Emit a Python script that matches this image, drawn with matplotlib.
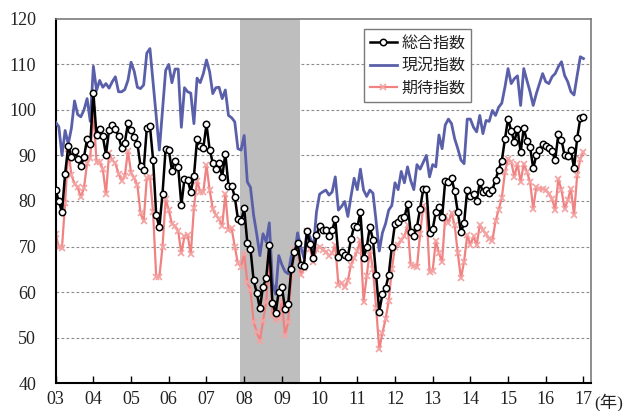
import numpy as np
import matplotlib
matplotlib.use("Agg")
import matplotlib.pyplot as plt

# ---- data (monthly, Jan 2003 - Jan 2017) ----
year_ticks = list(range(2003, 2018))
year_labels = ['03', '04', '05', '06', '07', '08', '09', '10', '11', '12', '13', '14', '15', '16', '17']

total = [
    82.4, 79.9, 77.6, 86.0, 92.1, 89.7, 90.9, 89.3, 87.7, 89.6, 93.7, 92.6,
    103.8, 94.4, 95.8, 94.2, 90.2, 95.6, 96.7, 95.9, 94.2, 91.7, 92.8, 97.1,
    95.5, 94.1, 92.6, 87.7, 86.9, 96.0, 96.5, 89.1, 76.9, 74.2, 81.6, 91.5,
    91.2, 86.7, 88.9, 87.4, 79.1, 84.9, 84.7, 82.0, 85.4, 93.6, 92.1, 91.7,
    96.9, 91.3, 88.4, 87.1, 88.3, 85.3, 90.4, 83.4, 83.4, 80.9, 76.1, 75.5,
    78.4, 70.8, 69.5, 62.6, 59.8, 56.4, 61.2, 63.0, 70.3, 57.6, 55.3, 60.1,
    61.2, 56.3, 57.3, 65.1, 68.7, 70.8, 66.0, 65.7, 73.5, 70.6, 67.4, 72.5,
    74.4, 73.6, 73.6, 72.2, 73.6, 76.0, 67.8, 68.9, 68.2, 67.7, 71.6, 74.5,
    74.2, 77.5, 67.5, 69.8, 74.3, 71.5, 63.7, 55.7, 59.5, 60.8, 63.7, 69.9,
    75.0, 75.3, 76.2, 76.4, 79.3, 73.2, 72.3, 74.3, 78.3, 82.6, 82.7, 72.9,
    73.8, 77.6, 78.6, 76.4, 84.5, 84.1, 85.1, 82.1, 77.5, 73.2, 75.1, 82.5,
    81.2, 81.6, 80.0, 84.1, 81.9, 82.5, 81.8, 82.5, 84.6, 86.9, 88.8, 93.6,
    98.1, 95.4, 93.0, 95.9, 90.7, 96.1, 93.1, 91.9, 87.2, 90.0, 91.3, 92.6,
    92.0, 91.7, 91.0, 89.0, 94.7, 93.5, 90.0, 89.8, 91.2, 87.2, 93.8, 98.2,
    98.5]

current = [
    97.3, 96.3, 90.0, 95.5, 92.5, 96.0, 102.0, 99.0, 98.5, 100.0, 102.5, 97.5,
    109.6, 104.3, 106.5, 105.0, 105.8, 104.8, 106.2, 107.3, 104.0, 104.0, 104.5, 106.5,
    110.5, 108.5, 105.0, 104.7, 105.5, 112.5, 113.5, 106.0, 98.5, 91.2, 100.0, 108.7,
    110.0, 106.0, 109.0, 109.0, 96.2, 104.9, 104.0, 103.7, 97.0, 107.0, 106.0, 108.0,
    111.0, 108.4, 103.6, 104.9, 105.0, 102.5, 104.4, 98.8, 98.3, 97.4, 91.5, 91.2,
    94.4, 84.2, 83.0, 76.9, 72.7, 68.0, 72.8, 71.0, 75.2, 62.0, 59.5, 68.0,
    66.0, 64.5, 64.0, 68.0, 68.0, 73.0, 70.0, 67.5, 73.5, 72.0, 69.5, 77.5,
    81.5, 82.0, 82.4, 81.3, 82.0, 85.3, 78.0, 78.8, 79.9, 76.6, 81.0, 85.0,
    82.5, 87.0, 82.4, 81.0, 82.4, 81.7, 75.5, 69.0, 73.0, 75.0, 78.0, 79.0,
    84.0, 82.5, 86.5, 84.0, 87.5, 84.5, 82.5, 88.0, 87.0, 88.5, 90.0, 85.3,
    88.0, 87.5, 94.5, 91.5, 96.7, 98.0, 97.0, 93.7, 91.5, 89.0, 88.2, 98.0,
    98.0, 96.2, 95.2, 98.8, 94.8, 97.7, 97.5, 99.9, 98.8, 100.6, 101.5, 105.0,
    109.1, 105.8, 106.9, 107.5, 101.0, 109.1, 106.5, 104.0, 101.0, 103.6, 105.8, 108.0,
    106.2, 105.8, 107.3, 108.0, 109.5, 110.6, 107.6, 106.2, 104.0, 103.3, 107.6, 111.7,
    111.3]

expect = [
    72.8, 69.8, 69.7, 79.6, 91.5, 85.7, 83.8, 83.0, 80.8, 82.9, 88.3, 89.5,
    100.0, 88.5, 88.5, 87.0, 81.5, 90.5, 89.0, 88.3, 86.0, 84.5, 85.5, 91.0,
    86.2, 85.0, 83.5, 77.3, 75.5, 85.0, 85.3, 77.5, 63.3, 63.3, 69.9, 80.5,
    78.0, 75.0, 74.5, 73.3, 68.5, 72.3, 72.5, 68.3, 78.5, 84.5, 82.0, 82.0,
    87.9, 82.4, 78.3, 76.9, 76.0, 74.5, 81.6, 73.6, 74.0, 70.0, 66.3, 65.6,
    68.3, 62.2, 60.4, 53.5, 51.2, 49.3, 53.6, 57.8, 67.2, 55.0, 53.8, 54.2,
    58.0, 50.5, 53.5, 63.2, 69.5, 69.5, 63.7, 65.2, 73.5, 69.5, 66.6, 69.5,
    70.0, 69.2, 68.9, 68.0, 68.5, 70.3, 61.5, 62.0, 61.0, 62.5, 66.0, 67.5,
    69.0, 71.4, 57.9, 63.5, 69.1, 65.0, 56.5, 47.4, 51.0, 54.0, 58.0, 65.0,
    70.0, 70.3, 71.4, 72.2, 74.7, 66.0, 65.7, 65.5, 72.7, 79.0, 78.0, 64.5,
    64.7, 71.3, 68.5, 66.7, 76.7, 75.2, 77.4, 74.7, 68.5, 63.0, 66.7, 72.5,
    70.4, 72.2, 70.3, 74.7, 73.6, 72.7, 71.7, 71.3, 75.5, 78.1, 80.6, 86.3,
    89.3, 88.6, 85.3, 88.2, 84.2, 88.2, 86.4, 84.2, 78.3, 83.1, 82.7, 82.7,
    82.4, 81.6, 80.5, 78.0, 84.9, 82.4, 78.3, 80.2, 82.7, 76.9, 85.7, 89.3,
    90.8]

recession = (2007.9, 2009.47)
labels = ['総合指数', '現況指数', '期待指数']

# ---- drawing ----
plt.rcParams['font.family'] = ['Liberation Serif', 'Noto Sans CJK JP', 'DejaVu Sans']
cjk = ['Noto Sans CJK JP', 'DejaVu Sans']

n = len(total)
t = 2003 + np.arange(n) / 12.0

fig = plt.figure(figsize=(6.3, 4.11), dpi=100)
ax = fig.add_axes([0.0884, 0.0681, 0.8497, 0.8857])

ax.axvspan(recession[0], recession[1], color='#BEBEBE', lw=0, zorder=1)
for v in range(50, 120, 10):
    ax.axhline(v, color='#8C8C8C', lw=0.8, ls=(0, (2.5, 2)), zorder=0.5)

l_cur, = ax.plot(t, current, color='#5A5FAA', lw=2.0, zorder=3)
l_exp, = ax.plot(t, expect, color='#F08282', lw=1.6, marker='x', ms=4,
                 mew=1.2, mec='#F4A3A3', zorder=2.5)
l_tot, = ax.plot(t, total, color='black', lw=1.8, marker='o', ms=4.6,
                 mfc='white', mec='black', mew=1.1, zorder=4)

ax.set_xlim(2003, 2017.2)
ax.set_ylim(40, 120)
ax.set_yticks(range(40, 121, 10))
ax.set_xticks(year_ticks)
ax.set_xticklabels(year_labels)
for lab in ax.get_xticklabels() + ax.get_yticklabels():
    lab.set_fontsize(13)
    lab.set_color('#222222')
ax.tick_params(axis='x', direction='in', length=5, width=1, pad=6, color='black')
ax.tick_params(axis='y', length=0, pad=14)

for s in ['left', 'bottom']:
    ax.spines[s].set_color('black')
    ax.spines[s].set_linewidth(1.5)
for s in ['top', 'right']:
    ax.spines[s].set_color('#7A7A7A')
    ax.spines[s].set_linewidth(1.2)

leg = ax.legend([l_tot, l_cur, l_exp], labels, loc='upper left',
                bbox_to_anchor=(0.576, 0.9725), borderaxespad=0,
                prop={'family': cjk, 'size': 11.5}, frameon=True,
                fancybox=False, framealpha=1, edgecolor='#7A7A7A',
                handlelength=1.7, handletextpad=0.3, labelspacing=0.35,
                borderpad=0.35, numpoints=1)
leg.get_frame().set_linewidth(1.0)
for txt in leg.get_texts():
    txt.set_color('#222222')

fig.text(609 / 630, 1 - 402 / 411, '(年)', fontsize=12.5,
         ha='center', va='center', color='#222222')

fig.savefig('out.png', dpi=100)
